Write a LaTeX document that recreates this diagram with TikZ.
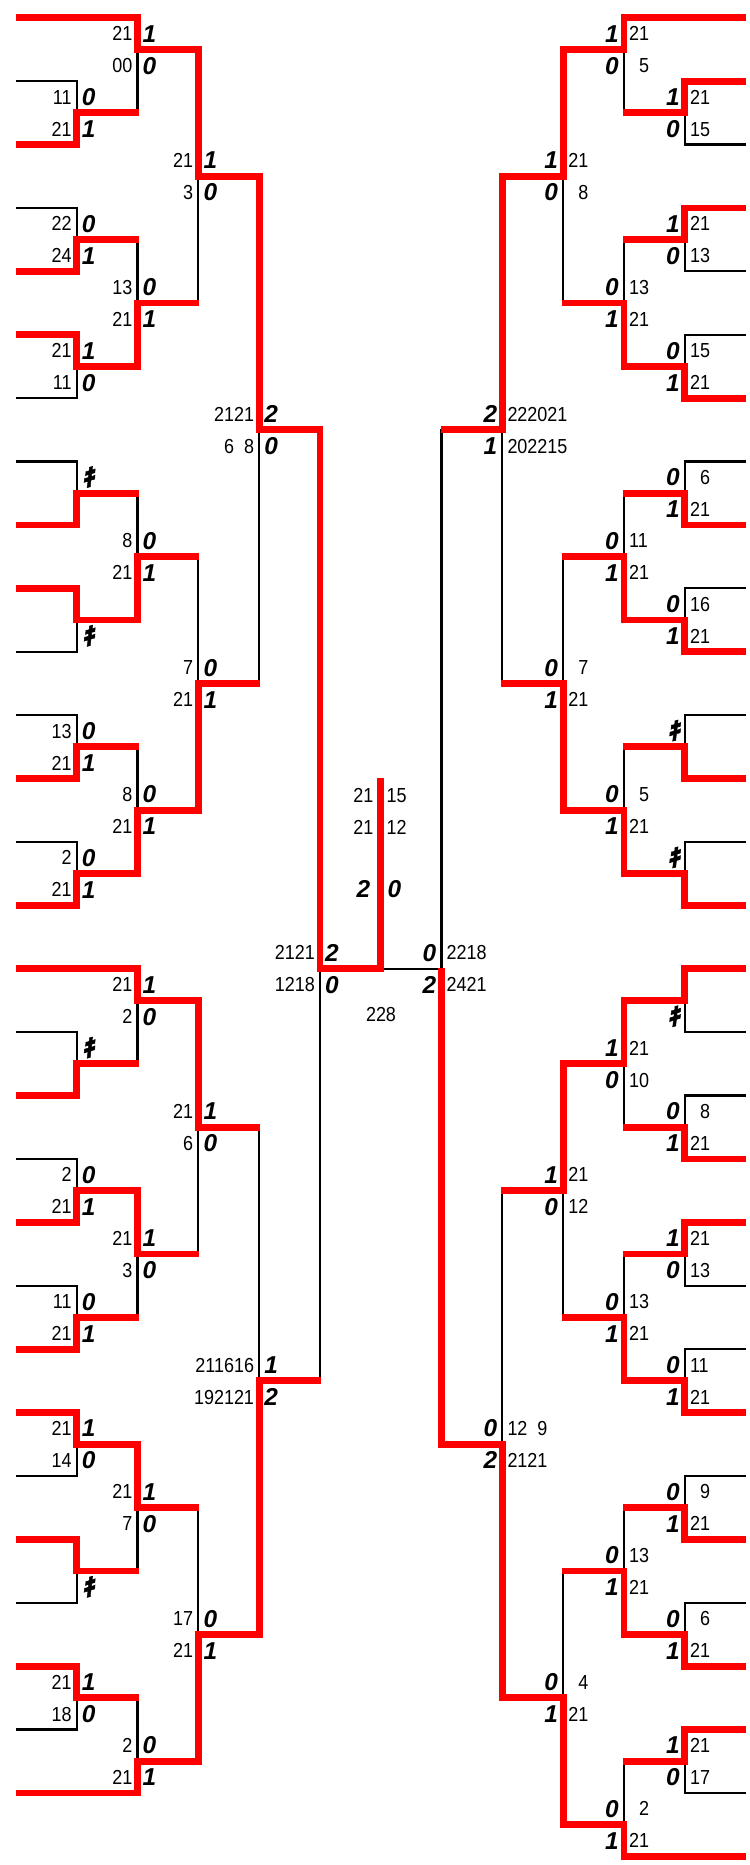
\documentclass[tikz,border=0pt]{standalone}
\usepackage{fontspec}
\newfontfamily\scorefont{Liberation Sans}[FakeStretch=0.885]
\newfontfamily\cntfont{Liberation Sans}
\newfontfamily\kifont{Noto Sans CJK JP}[FakeSlant=0.2,FakeBold=2]
\usepackage{tikz}
\usetikzlibrary{backgrounds}
\tikzstyle{winline} = [red, line width=6.8pt, shorten <=-3.4pt, shorten >=-1pt]
\tikzstyle{loseline} = [black, line width=2.2pt, line cap=rect]
\tikzstyle{winleaf} = [red, line width=6.8pt]
\tikzstyle{loseleaf} = [black, line width=2.2pt]
\tikzstyle{scorenode} = [inner sep=0pt, text height=14.5pt, text depth=0pt, font=\scorefont\fontsize{20.3pt}{24pt}\selectfont]
\tikzstyle{setnode} = [inner sep=0pt, text height=17.5pt, text depth=0pt, font=\cntfont\bfseries\itshape\fontsize{24.4pt}{28pt}\selectfont]
\newcommand\ki{{\kifont ｷ}}
\newcommand\ph{\phantom{0}}

\begin{document}
\begin{tikzpicture}[x=1pt, y=-63.4pt]
  \useasboundingbox (0,-0.2792) rectangle (749,29.137);

  % entries
  \foreach \k/\e/\s in {0/137.5/winleaf, 1/76.7/loseleaf, 2/76.7/winleaf, 3/76.7/loseleaf,
      4/76.7/winleaf, 5/76.7/winleaf, 6/76.7/loseleaf, 7/76.7/loseleaf, 8/76.7/winleaf,
      9/76.7/winleaf, 10/76.7/loseleaf, 11/76.7/loseleaf, 12/76.7/winleaf, 13/76.7/loseleaf,
      14/76.7/winleaf, 15/137.5/winleaf, 16/76.7/loseleaf, 17/76.7/winleaf, 18/76.7/loseleaf,
      19/76.7/winleaf, 20/76.7/loseleaf, 21/76.7/winleaf, 22/76.7/winleaf, 23/76.7/loseleaf,
      24/76.7/winleaf, 25/76.7/loseleaf, 26/76.7/winleaf, 27/76.7/loseleaf, 28/137.5/winleaf}
    \draw[\s] (16,\k) -- (\e,\k);
  \foreach \k/\e/\s in {0/624/winleaf, 1/684.8/winleaf, 2/684.8/loseleaf, 3/684.8/winleaf,
      4/684.8/loseleaf, 5/684.8/loseleaf, 6/684.8/winleaf, 7/684.8/loseleaf, 8/684.8/winleaf,
      9/684.8/loseleaf, 10/684.8/winleaf, 11/684.8/loseleaf, 12/684.8/winleaf, 13/684.8/loseleaf,
      14/684.8/winleaf, 15/684.8/winleaf, 16/684.8/loseleaf, 17/684.8/loseleaf, 18/684.8/winleaf,
      19/684.8/winleaf, 20/684.8/loseleaf, 21/684.8/loseleaf, 22/684.8/winleaf, 23/684.8/loseleaf,
      24/684.8/winleaf, 25/684.8/loseleaf, 26/684.8/winleaf, 27/684.8/winleaf, 28/684.8/loseleaf,
      29/624/winleaf}
    \draw[\s] (\e,\k) -- (746,\k);

  % left half
  \foreach \cx/\nx/\ya/\yb/\yo/\yw/\tsc/\tst/\bsc/\bst [count=\i] in {
      76.7/137.5/1/2/1.5/2/11/0/21/1, 76.7/137.5/3/4/3.5/4/22/0/24/1,
      76.7/137.5/5/6/5.5/5/21/1/11/0, 76.7/137.5/7/8/7.5/8/{}/\ki/{}/{},
      76.7/137.5/9/10/9.5/9/{}/{}/{}/\ki, 76.7/137.5/11/12/11.5/12/13/0/21/1,
      76.7/137.5/13/14/13.5/14/2/0/21/1,
      137.5/198.3/0/1.5/0.5/0/21/1/00/0, 137.5/198.3/3.5/5.5/4.5/5.5/13/0/21/1,
      137.5/198.3/7.5/9.5/8.5/9.5/8/0/21/1, 137.5/198.3/11.5/13.5/12.5/13.5/8/0/21/1,
      198.3/259.2/0.5/4.5/2.5/0.5/21/1/3/0, 198.3/259.2/8.5/12.5/10.5/12.5/7/0/21/1,
      259.2/320/2.5/10.5/6.5/2.5/2121/2/\ph6\ph8/0,
      76.7/137.5/16/17/16.5/17/{}/\ki/{}/{}, 76.7/137.5/18/19/18.5/19/2/0/21/1,
      76.7/137.5/20/21/20.5/21/11/0/21/1, 76.7/137.5/22/23/22.5/22/21/1/14/0,
      76.7/137.5/24/25/24.5/24/{}/{}/{}/\ki, 76.7/137.5/26/27/26.5/26/21/1/18/0,
      137.5/198.3/15/16.5/15.5/15/21/1/2/0, 137.5/198.3/18.5/20.5/19.5/18.5/21/1/3/0,
      137.5/198.3/22.5/24.5/23.5/22.5/21/1/7/0, 137.5/198.3/26.5/28/27.5/28/2/0/21/1,
      198.3/259.2/15.5/19.5/17.5/15.5/21/1/6/0, 198.3/259.2/23.5/27.5/25.5/27.5/17/0/21/1,
      259.2/320/17.5/25.5/21.5/25.5/211616/1/192121/2} {
    \begin{scope}[on background layer]
      \draw[loseline] (\cx,\ya) -- (\cx,\yb);
    \end{scope}
    \draw[winline] (\cx,\yw) -- (\cx,\yo) -- (\nx,\yo);
    \node[scorenode, anchor=east, xshift=-5pt, yshift=16pt] (lts\i) at (\cx,\yo) {\tsc};
    \node[setnode, anchor=west, xshift=5pt, yshift=16pt] (ltc\i) at (\cx,\yo) {\tst};
    \node[scorenode, anchor=east, xshift=-5pt, yshift=-16pt] (lbs\i) at (\cx,\yo) {\bsc};
    \node[setnode, anchor=west, xshift=5pt, yshift=-16pt] (lbc\i) at (\cx,\yo) {\bst};
  }

  % right half
  \foreach \cx/\nx/\ya/\yb/\yo/\yw/\tsc/\tst/\bsc/\bst [count=\i] in {
      684.8/624/1/2/1.5/1/21/1/15/0, 684.8/624/3/4/3.5/3/21/1/13/0,
      684.8/624/5/6/5.5/6/15/0/21/1, 684.8/624/7/8/7.5/8/\ph6/0/21/1,
      684.8/624/9/10/9.5/10/16/0/21/1, 684.8/624/11/12/11.5/12/{}/\ki/{}/{},
      684.8/624/13/14/13.5/14/{}/\ki/{}/{},
      624/563.2/0/1.5/0.5/0/21/1/\ph5/0, 624/563.2/3.5/5.5/4.5/5.5/13/0/21/1,
      624/563.2/7.5/9.5/8.5/9.5/11/0/21/1, 624/563.2/11.5/13.5/12.5/13.5/\ph5/0/21/1,
      563.2/502.3/0.5/4.5/2.5/0.5/21/1/\ph8/0, 563.2/502.3/8.5/12.5/10.5/12.5/\ph7/0/21/1,
      502.3/441.5/2.5/10.5/6.5/2.5/222021/2/202215/1,
      684.8/624/15/16/15.5/15/{}/{}/{}/\ki, 684.8/624/17/18/17.5/18/\ph8/0/21/1,
      684.8/624/19/20/19.5/19/21/1/13/0, 684.8/624/21/22/21.5/22/11/0/21/1,
      684.8/624/23/24/23.5/24/\ph9/0/21/1, 684.8/624/25/26/25.5/26/\ph6/0/21/1,
      684.8/624/27/28/27.5/27/21/1/17/0,
      624/563.2/15.5/17.5/16.5/15.5/21/1/10/0, 624/563.2/19.5/21.5/20.5/21.5/13/0/21/1,
      624/563.2/23.5/25.5/24.5/25.5/13/0/21/1, 624/563.2/27.5/29/28.5/29/\ph2/0/21/1,
      563.2/502.3/16.5/20.5/18.5/16.5/21/1/12/0, 563.2/502.3/24.5/28.5/26.5/28.5/\ph4/0/21/1,
      502.3/441.5/18.5/26.5/22.5/26.5/12\ph9/0/2121/2} {
    \begin{scope}[on background layer]
      \draw[loseline] (\cx,\ya) -- (\cx,\yb);
    \end{scope}
    \draw[winline] (\cx,\yw) -- (\cx,\yo) -- (\nx,\yo);
    \node[setnode, anchor=east, xshift=-5pt, yshift=16pt] (rtc\i) at (\cx,\yo) {\tst};
    \node[scorenode, anchor=west, xshift=5pt, yshift=16pt] (rts\i) at (\cx,\yo) {\tsc};
    \node[setnode, anchor=east, xshift=-5pt, yshift=-16pt] (rbc\i) at (\cx,\yo) {\bst};
    \node[scorenode, anchor=west, xshift=5pt, yshift=-16pt] (rbs\i) at (\cx,\yo) {\bsc};
  }

  % semifinals and final
  \begin{scope}[on background layer]
    \draw[loseline] (320,6.5) -- (320,21.5);
    \draw[loseline] (441.5,6.5) -- (441.5,22.5);
    \draw[loseline] (441.5,15) -- (380.5,15);
  \end{scope}
  \draw[winline] (320,6.5) -- (320,15) -- (380.5,15) -- (380.5,12);
  \draw[winline] (441.5,22.5) -- (441.5,15);

  \node[scorenode, anchor=east, xshift=-5pt, yshift=16pt] (lsts) at (320,15) {2121};
  \node[setnode, anchor=west, xshift=5pt, yshift=16pt] (lstc) at (320,15) {2};
  \node[scorenode, anchor=east, xshift=-5pt, yshift=-16pt] (lsbs) at (320,15) {1218};
  \node[setnode, anchor=west, xshift=5pt, yshift=-16pt] (lsbc) at (320,15) {0};
  \node[setnode, anchor=east, xshift=-5pt, yshift=16pt] (rstc) at (441.5,15) {0};
  \node[scorenode, anchor=west, xshift=5pt, yshift=16pt] (rsts) at (441.5,15) {2218};
  \node[setnode, anchor=east, xshift=-5pt, yshift=-16pt] (rsbc) at (441.5,15) {2};
  \node[scorenode, anchor=west, xshift=5pt, yshift=-16pt] (rsbs) at (441.5,15) {2421};

  \node[scorenode, anchor=east, xshift=-7pt, yshift=-16.5pt] (fl1) at (380.5,12) {21};
  \node[scorenode, anchor=west, xshift=6pt, yshift=-16.5pt] (fr1) at (380.5,12) {15};
  \node[scorenode, anchor=east, xshift=-7pt, yshift=-48.5pt] (fl2) at (380.5,12) {21};
  \node[scorenode, anchor=west, xshift=6pt, yshift=-48.5pt] (fr2) at (380.5,12) {12};
  \node[setnode, anchor=east, xshift=-10pt, yshift=-110.5pt] (flc) at (380.5,12) {2};
  \node[setnode, anchor=west, xshift=7pt, yshift=-110.5pt] (frc) at (380.5,12) {0};
  \node[scorenode, yshift=-46pt] (res) at (381,15) {228};
\end{tikzpicture}
\end{document}
